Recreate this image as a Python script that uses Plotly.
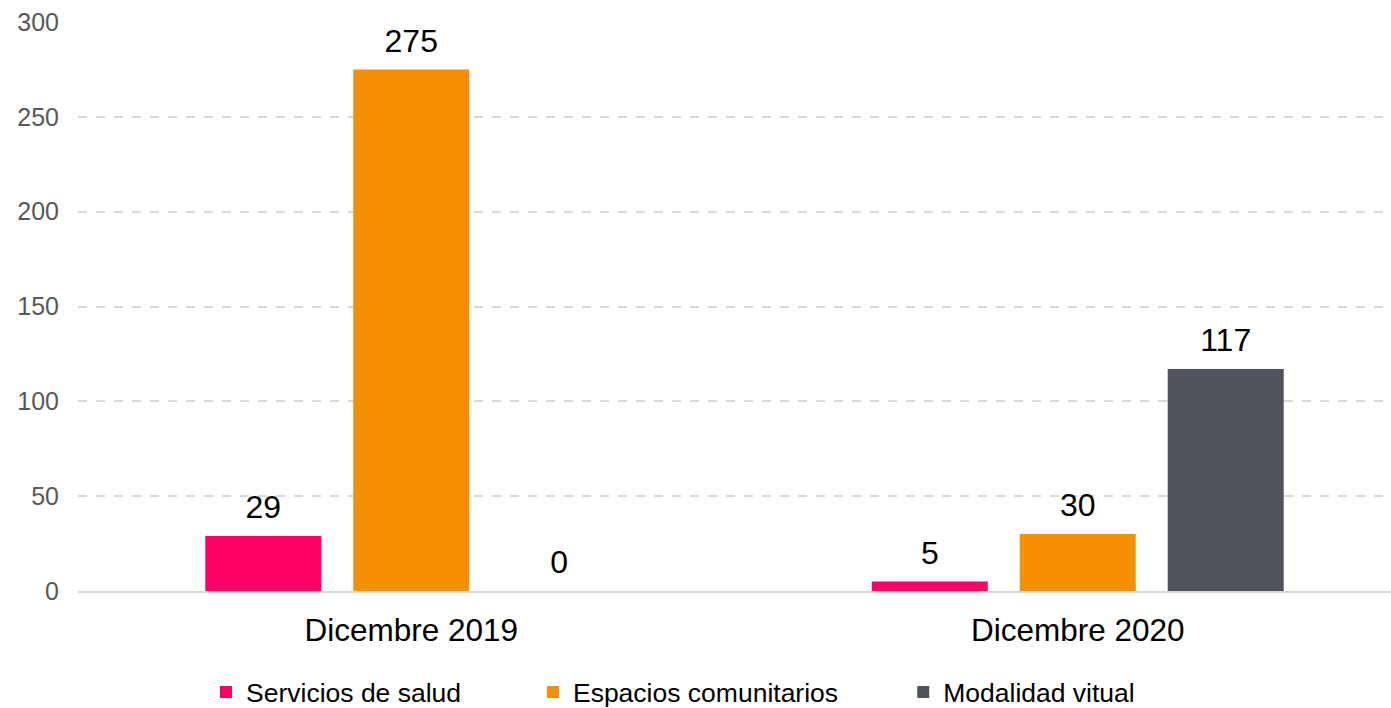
import plotly.graph_objects as go

categories = ["Dicembre 2019", "Dicembre 2020"]
series_names = ["Servicios de salud", "Espacios comunitarios", "Modalidad vitual"]
salud = [29, 5]
comunitarios = [275, 30]
virtual = [0, 117]
colors = ["#FF0066", "#F78F05", "#50535B"]
y_ticks = [0, 50, 100, 150, 200, 250, 300]

FONT = "Liberation Sans, Arial, sans-serif"

fig = go.Figure()
legend_ids = ["legend", "legend2", "legend3"]
for i, (name, vals, col, lg) in enumerate(zip(series_names, [salud, comunitarios, virtual], colors, legend_ids)):
    fig.add_trace(go.Bar(
        x=categories, y=vals, name=name, legend=lg,
        marker=dict(color=col, line=dict(width=0)),
        offsetgroup=str(i),
    ))
for i, vals in enumerate([salud, comunitarios, virtual]):
    fig.add_trace(go.Scatter(
        x=categories, y=vals, mode="markers+text", showlegend=False,
        text=[str(v) for v in vals], textposition="top center",
        textfont=dict(size=32, color="#000000", family=FONT),
        marker=dict(size=14, opacity=0), offsetgroup=str(i),
        cliponaxis=False, hoverinfo="skip",
    ))

legend_common = dict(orientation="h", yanchor="middle", y=-0.178, xanchor="left",
                     font=dict(size=26.5, color="#000000", family=FONT),
                     bgcolor="rgba(0,0,0,0)")
fig.update_layout(
    width=1391, height=708,
    margin=dict(l=78, r=0, t=22, b=117, autoexpand=False),
    paper_bgcolor="white", plot_bgcolor="white",
    barmode="group", bargap=0.334, bargroupgap=0.216,
    scattermode="group", scattergap=0.334,
    font=dict(family=FONT),
    legend=dict(x=0.0975, **legend_common),
    legend2=dict(x=0.3465, **legend_common),
    legend3=dict(x=0.6285, **legend_common),
    xaxis=dict(range=[-0.5, 1.47], showline=True, linecolor="#D9D9D9", linewidth=2,
               showgrid=False, tickfont=dict(size=31.5, color="#000000"),
               ticklabelstandoff=10),
    yaxis=dict(range=[0, 300], tickvals=y_ticks, showgrid=True, gridcolor="#D9D9D9",
               griddash="dash", gridwidth=1.5, zeroline=False, showline=False,
               tickfont=dict(size=25, color="#595959"), ticklabelstandoff=18),
    showlegend=True,
)

fig.write_html("out.html")
